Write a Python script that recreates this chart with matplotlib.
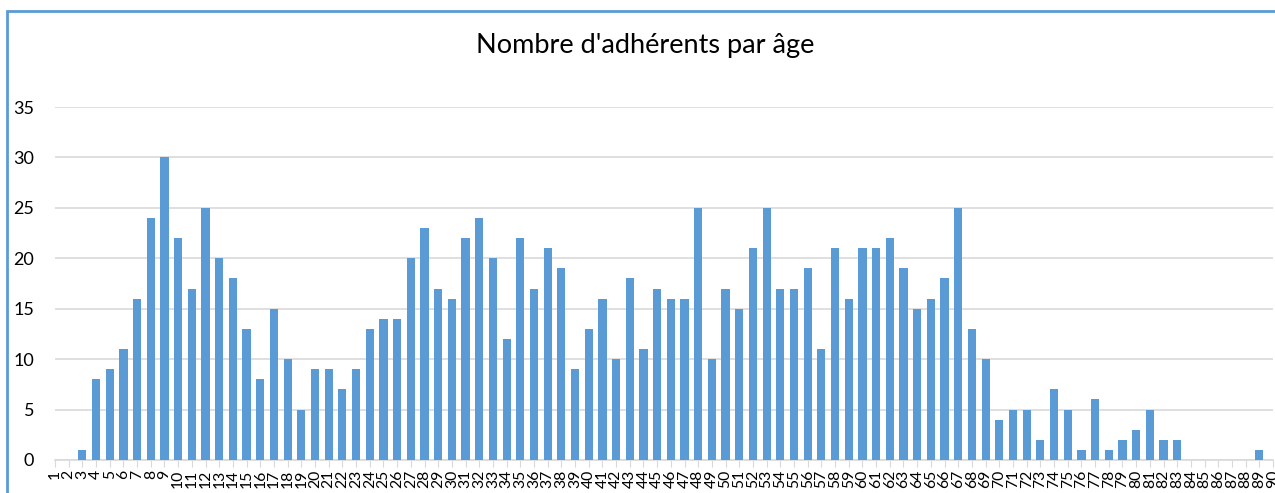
import matplotlib
matplotlib.use("Agg")
import matplotlib.pyplot as plt
from matplotlib.patches import Rectangle

ages = list(range(1, 91))
counts = [0, 0, 1, 8, 9, 11, 16, 24, 30, 22,
          17, 25, 20, 18, 13, 8, 15, 10, 5, 9,
          9, 7, 9, 13, 14, 14, 20, 23, 17, 16,
          22, 24, 20, 12, 22, 17, 21, 19, 9, 13,
          16, 10, 18, 11, 17, 16, 16, 25, 10, 17,
          15, 21, 25, 17, 17, 19, 11, 21, 16, 21,
          21, 22, 19, 15, 16, 18, 25, 13, 10, 4,
          5, 5, 2, 7, 5, 1, 6, 1, 2, 3,
          5, 2, 2, 0, 0, 0, 0, 0, 1, 0]
tick_labels = [str(a) for a in ages]
title = "Nombre d'adhérents par âge"
yticks = [0, 5, 10, 15, 20, 25, 30, 35]

plt.rcParams['font.family'] = ['Lato', 'DejaVu Sans']

W, H = 1275, 493
fig = plt.figure(figsize=(W / 100, H / 100), dpi=100)
ax = fig.add_axes([55 / W, 1 - 460 / H, (1273 - 55) / W, (460 - 107) / H])

ax.bar(ages, counts, width=0.6, color='#5B9BD5', zorder=3, clip_on=True)
ax.set_xlim(1, 90)
ax.set_ylim(0, 35)
ax.set_yticks(yticks)
ax.set_xticks(ages)
ax.set_xticklabels(tick_labels, rotation=90, fontsize=11.3, color='#000000')
ax.tick_params(axis='y', length=0, labelsize=13, pad=15, labelcolor='#000000')
ax.tick_params(axis='x', length=5, color='#D9D9D9', pad=2)
ax.grid(axis='y', color='#D9D9D9', linewidth=1.2, zorder=0)
for s in ['top', 'right', 'left']:
    ax.spines[s].set_visible(False)
ax.spines['bottom'].set_color('#D9D9D9')
ax.spines['bottom'].set_linewidth(1.2)

fig.text(0.506, 1 - 46 / H, title, ha='center', va='center', fontsize=19.5, color='#000000')

# chart border (blue) partially visible at top and left
fig.patches.append(Rectangle((7 / W, -0.1), 1.2, 1 - 11 / H + 0.1, transform=fig.transFigure,
                             fill=False, edgecolor='#5B9BD5', linewidth=2))

fig.savefig('out.png', dpi=100)
